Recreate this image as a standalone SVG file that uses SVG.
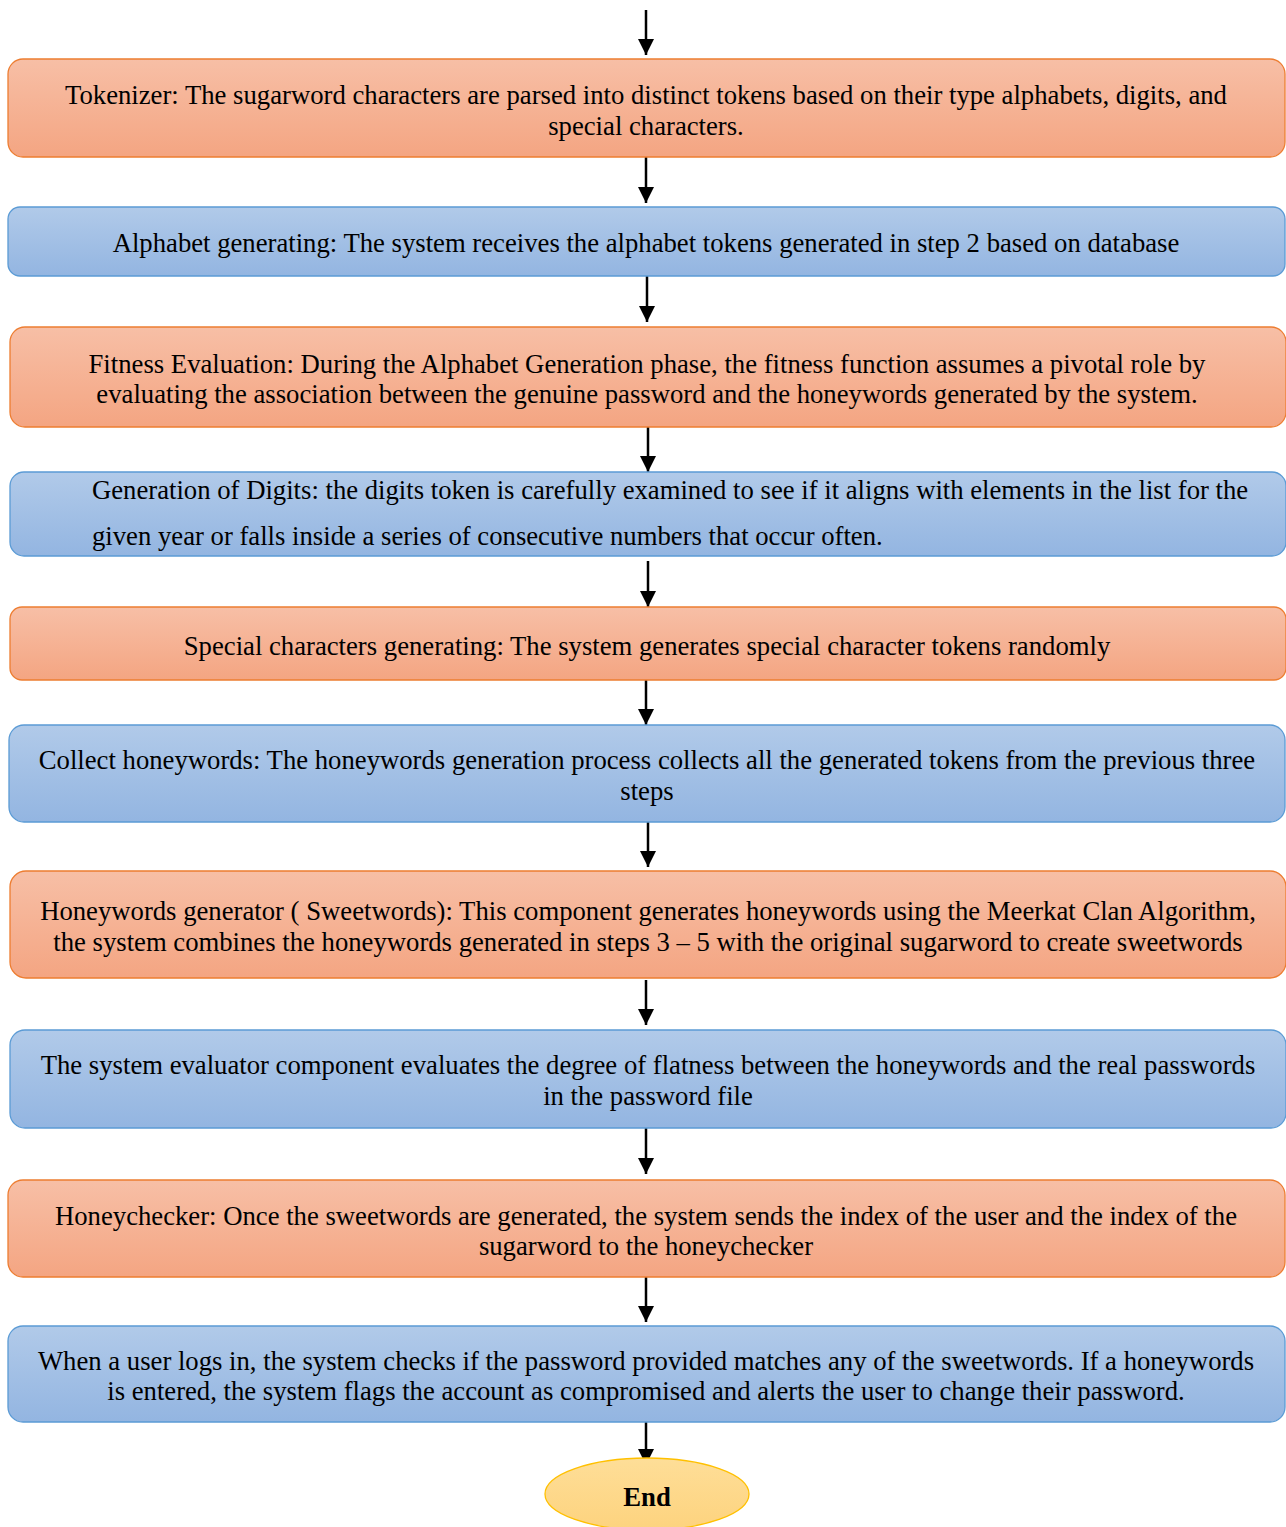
<svg xmlns="http://www.w3.org/2000/svg" width="1286" height="1527" viewBox="0 0 1286 1527">
<defs>
<linearGradient id="gO" x1="0" y1="0" x2="0" y2="1"><stop offset="0" stop-color="#F7BFA6"/><stop offset="1" stop-color="#F4A582"/></linearGradient>
<linearGradient id="gB" x1="0" y1="0" x2="0" y2="1"><stop offset="0" stop-color="#B1CAE9"/><stop offset="1" stop-color="#93B5E1"/></linearGradient>
<linearGradient id="gY" x1="0" y1="0" x2="0" y2="1"><stop offset="0" stop-color="#FEDE98"/><stop offset="1" stop-color="#FDD37E"/></linearGradient>
<marker id="ah" markerWidth="16" markerHeight="16" refX="16" refY="8" orient="auto" markerUnits="userSpaceOnUse" viewBox="0 0 16 16"><path d="M0,0 L16,8 L0,16 z" fill="#000"/></marker>
</defs>
<style>
text{font-family:'Liberation Serif',serif;font-size:26.7px;fill:#000;text-anchor:middle}
.o{fill:url(#gO);stroke:#ED7D31;stroke-width:1.3}
.b{fill:url(#gB);stroke:#5B9BD5;stroke-width:1.3}
.l{text-anchor:start}
.c line{stroke:#000;stroke-width:2.5;marker-end:url(#ah)}
</style>
<g class="c" id="connectors">
<line x1="646" y1="10" x2="646" y2="55"/>
<line x1="646" y1="157" x2="646" y2="203"/>
<line x1="647" y1="276" x2="647" y2="322"/>
<line x1="648" y1="427" x2="648" y2="472"/>
<line x1="648" y1="561" x2="648" y2="607"/>
<line x1="646" y1="680" x2="646" y2="725"/>
<line x1="648" y1="822" x2="648" y2="867"/>
<line x1="646" y1="980" x2="646" y2="1025"/>
<line x1="646" y1="1128" x2="646" y2="1174"/>
<line x1="646" y1="1277" x2="646" y2="1322"/>
<line x1="646" y1="1420" x2="646" y2="1465"/>
</g>
<g id="n1"><rect class="o" x="8" y="59" width="1277" height="98" rx="15"/>
<text x="646" y="104">Tokenizer: The sugarword characters are parsed into distinct tokens based on their type alphabets, digits, and</text>
<text x="646" y="135">special characters.</text></g>
<g id="n2"><rect class="b" x="8" y="207" width="1277" height="69" rx="12"/>
<text x="646" y="252">Alphabet generating: The system receives the alphabet tokens generated in step 2 based on database</text></g>
<g id="n3"><rect class="o" x="10" y="327" width="1276" height="100" rx="15"/>
<text x="647" y="373">Fitness Evaluation: During the Alphabet Generation phase, the fitness function assumes a pivotal role by</text>
<text x="647" y="403">evaluating the association between the genuine password and the honeywords generated by the system.</text></g>
<g id="n4"><rect class="b" x="10" y="472" width="1276" height="84" rx="14"/>
<text class="l" x="92" y="499">Generation of Digits: the digits token is carefully examined to see if it aligns with elements in the list for the</text>
<text class="l" x="92" y="545">given year or falls inside a series of consecutive numbers that occur often.</text></g>
<g id="n5"><rect class="o" x="10" y="607" width="1276" height="73" rx="12"/>
<text x="647" y="655">Special characters generating: The system generates special character tokens randomly</text></g>
<g id="n6"><rect class="b" x="9" y="725" width="1276" height="97" rx="15"/>
<text x="647" y="769">Collect honeywords: The honeywords generation process collects all the generated tokens from the previous three</text>
<text x="647" y="800">steps</text></g>
<g id="n7"><rect class="o" x="10" y="871" width="1276" height="107" rx="16"/>
<text x="648" y="920">Honeywords generator ( Sweetwords): This component generates honeywords using the Meerkat Clan Algorithm,</text>
<text x="648" y="951">the system combines the honeywords generated in steps 3 – 5 with the original sugarword to create sweetwords</text></g>
<g id="n8"><rect class="b" x="10" y="1030" width="1276" height="98" rx="15"/>
<text x="648" y="1074">The system evaluator component evaluates the degree of flatness between the honeywords and the real passwords</text>
<text x="648" y="1105">in the password file</text></g>
<g id="n9"><rect class="o" x="8" y="1180" width="1277" height="97" rx="15"/>
<text x="646" y="1225">Honeychecker: Once the sweetwords are generated, the system sends the index of the user and the index of the</text>
<text x="646" y="1255">sugarword to the honeychecker</text></g>
<g id="n10"><rect class="b" x="8" y="1326" width="1277" height="96" rx="15"/>
<text x="646" y="1370">When a user logs in, the system checks if the password provided matches any of the sweetwords. If a honeywords</text>
<text x="646" y="1400">is entered, the system flags the account as compromised and alerts the user to change their password.</text></g>
<g id="end"><ellipse cx="647" cy="1494" rx="102" ry="36" fill="url(#gY)" stroke="#FFC000" stroke-width="1.3"/>
<text x="647" y="1506" style="font-weight:bold">End</text></g>
</svg>
